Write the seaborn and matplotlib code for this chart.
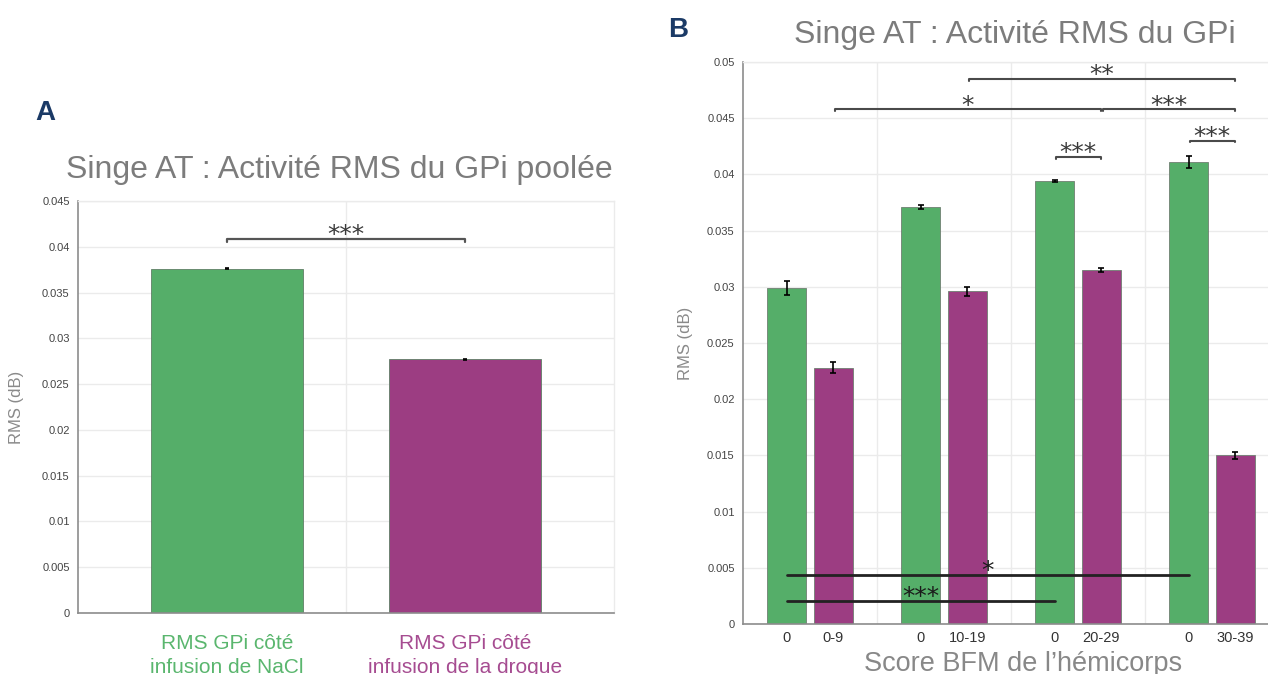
import matplotlib
matplotlib.use("Agg")
import matplotlib.pyplot as plt
import seaborn as sns
import pandas as pd
import numpy as np

# ---------------- data ----------------
# Panel A
a_categories = ["RMS GPi côté\ninfusion de NaCl", "RMS GPi côté\ninfusion de la drogue"]
a_values = [0.0376, 0.0277]
a_errors = [0.00005, 0.00005]

# Panel B
b_groups = ["0-9", "10-19", "20-29", "30-39"]
b_conditions = ["NaCl", "drogue"]
b_nacl = [0.0299, 0.0371, 0.0394, 0.0411]
b_drug = [0.0228, 0.0296, 0.0315, 0.0150]
b_nacl_err = [0.0006, 0.0002, 0.0001, 0.0005]
b_drug_err = [0.0005, 0.0004, 0.0002, 0.0003]
b_tick_labels = ["0", "0-9", "0", "10-19", "0", "20-29", "0", "30-39"]

# significance annotations: (bar i, bar j, y, label)
a_sig = [(0, 1, 0.04085, "***")]
b_sig_top = [(3, 7, 0.0485, "**"), (1, 5, 0.0458, "*"), (5, 7, 0.0458, "***"),
             (4, 5, 0.04156, "***"), (6, 7, 0.0430, "***")]
b_sig_bottom = [(0, 6, 0.00437, "*"), (0, 4, 0.00208, "***")]

# ---------------- style ----------------
sns.set_theme(style="white")
plt.rcParams["font.family"] = ["Liberation Sans", "DejaVu Sans"]

GREEN = "#55ae69"
PURPLE = "#9c3d82"
GREEN_TXT = "#5ab66e"
PURPLE_TXT = "#a64c91"
GRID = "#ebebeb"
SPINE = "#8c8c8c"
TITLE_C = "#7c7c7c"

W, H = 1268, 674
fig = plt.figure(figsize=(W / 100, H / 100), dpi=100)
axA = fig.add_axes([78 / W, 1 - 613 / H, (614 - 78) / W, (613 - 201) / H])
axB = fig.add_axes([743 / W, 1 - 624 / H, (1279 - 743) / W, (624 - 62) / H])


def style_axes(ax, ymax):
    ax.set_axisbelow(True)
    ax.set_ylim(0, ymax)
    yt = np.round(np.arange(0, ymax + 1e-9, 0.005), 3)
    ax.set_yticks(yt)
    ax.set_yticklabels([f"{v:g}" for v in yt])
    ax.yaxis.grid(True, color=GRID, lw=1)
    ax.xaxis.grid(True, which="minor", color=GRID, lw=1)
    ax.xaxis.grid(False, which="major")
    for s in ["left", "bottom"]:
        ax.spines[s].set_color(SPINE)
        ax.spines[s].set_linewidth(1.2)
    for s in ["top", "right"]:
        ax.spines[s].set_color(GRID)
        ax.spines[s].set_linewidth(1)
    ax.tick_params(axis="y", direction="in", length=3, color=SPINE, labelsize=8,
                   labelcolor="#444444", pad=6)
    ax.tick_params(axis="x", which="both", length=0)


def bar_centers(ax):
    return sorted(p.get_x() + p.get_width() / 2 for p in ax.patches)


def sig_text(ax, x, y, label, color, size=18):
    ax.annotate(label, (x, y), xytext=(0, -2.5), textcoords="offset points",
                ha="center", va="baseline", fontsize=size, color=color,
                family="DejaVu Sans")


# ---------------- Panel A ----------------
dfA = pd.DataFrame({"cond": a_categories, "rms": a_values})
sns.barplot(data=dfA, x="cond", y="rms", hue="cond", palette=[GREEN, PURPLE],
            width=0.635, errorbar=None, legend=False, saturation=1,
            edgecolor="#5f7f66", linewidth=0.6, ax=axA)
cA = bar_centers(axA)
axA.errorbar(cA, a_values, yerr=a_errors, fmt="none", ecolor="black",
             elinewidth=1.2, capsize=1.5, capthick=1.2)
axA.set_xlim(-0.625, 1.625)
axA.set_xticks([0.5], minor=True)
style_axes(axA, 0.045)
axA.set_xlabel("")
axA.set_ylabel("RMS (dB)", fontsize=12, color="#8a8a8a")
axA.yaxis.set_label_coords(-0.10, 0.5)
axA.tick_params(axis="x", labelsize=15, pad=15)
for lab, col in zip(axA.get_xticklabels(), [GREEN_TXT, PURPLE_TXT]):
    lab.set_color(col)
    lab.set_linespacing(1.35)

for i, j, y, lab in a_sig:
    x0, x1 = cA[i], cA[j]
    axA.plot([x0, x0, x1, x1], [y - 0.00035, y, y, y - 0.00035], color="#555555", lw=1.6)
    sig_text(axA, (x0 + x1) / 2, y, lab, "#3a3a3a")

# ---------------- Panel B ----------------
dfB = pd.DataFrame({"groupe": b_groups * 2,
                    "condition": [b_conditions[0]] * 4 + [b_conditions[1]] * 4,
                    "rms": b_nacl + b_drug})
sns.barplot(data=dfB, x="groupe", y="rms", hue="condition", hue_order=b_conditions,
            palette=[GREEN, PURPLE], width=0.7, gap=0.15, errorbar=None,
            legend=False, saturation=1, edgecolor="#6f7f72", linewidth=0.6, ax=axB)
cB = bar_centers(axB)
vals = [v for pair in zip(b_nacl, b_drug) for v in pair]
errs = [e for pair in zip(b_nacl_err, b_drug_err) for e in pair]
axB.errorbar(cB, vals, yerr=errs, fmt="none", ecolor="black",
             elinewidth=1.2, capsize=2, capthick=1.2)
axB.set_xlim(-0.5, 3.5)
axB.set_xticks(cB)
axB.set_xticklabels(b_tick_labels)
axB.set_xticks([0.5, 1.5, 2.5, 3.5], minor=True)
style_axes(axB, 0.05)
axB.tick_params(axis="x", labelsize=10.5, labelcolor="#333333", pad=5)
axB.set_xlabel("Score BFM de l\u2019hémicorps", fontsize=19.5, color="#888888")
axB.xaxis.set_label_coords(0.522, -0.048)
axB.set_ylabel("RMS (dB)", fontsize=12, color="#8a8a8a")
axB.yaxis.set_label_coords(-0.093, 0.5)

for i, j, y, lab in b_sig_top:
    x0, x1 = cB[i] + 0.01, cB[j]
    axB.plot([x0, x0, x1, x1], [y - 0.00015, y, y, y - 0.00015], color="#4a4a4a", lw=1.5)
    sig_text(axB, (cB[i] + cB[j]) / 2, y, lab, "#3a3a3a")
for i, j, y, lab in b_sig_bottom:
    x0, x1 = cB[i], cB[j]
    axB.plot([x0, x1], [y, y], color="#222222", lw=2)
    sig_text(axB, (x0 + x1) / 2, y, lab, "#1a1a1a")

# ---------------- titles / panel letters ----------------
fig.text(339.5 / W, 1 - 178 / H, "Singe AT : Activité RMS du GPi poolée", ha="center",
         va="baseline", fontsize=23, color=TITLE_C)
fig.text(1014.5 / W, 1 - 43 / H, "Singe AT : Activité RMS du GPi", ha="center",
         va="baseline", fontsize=23, color=TITLE_C)
fig.text(35 / W, 1 - 120 / H, "A", ha="left", va="baseline", fontsize=20,
         fontweight="bold", color="#1b3a66")
fig.text(668 / W, 1 - 37 / H, "B", ha="left", va="baseline", fontsize=20,
         fontweight="bold", color="#1b3a66")

fig.savefig("out.png", dpi=100)
